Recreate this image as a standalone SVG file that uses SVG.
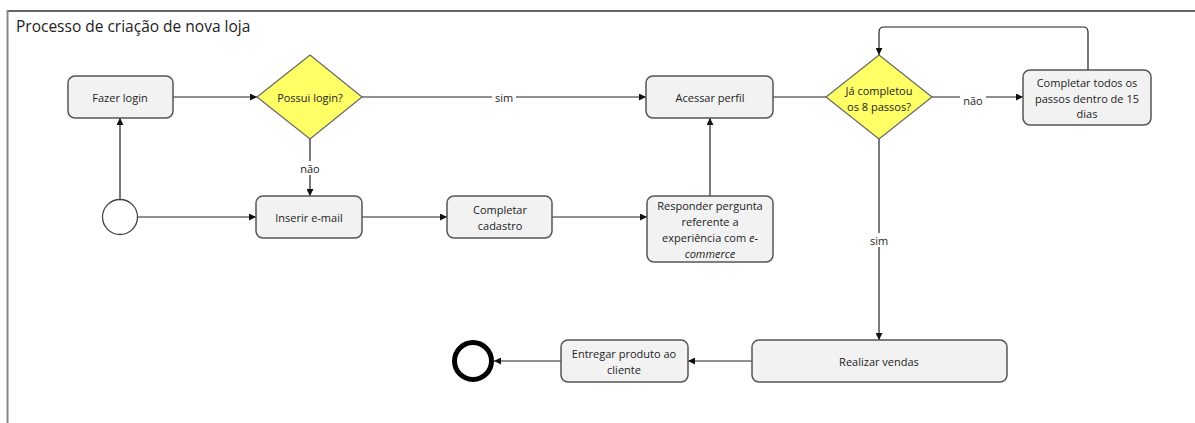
<svg xmlns="http://www.w3.org/2000/svg" width="1195" height="423" viewBox="0 0 1195 423">
<style>
text{font-family:"Open Sans","Liberation Sans",sans-serif;font-size:11px;fill:#222;text-anchor:middle;dominant-baseline:central}
.box{fill:#f2f2f2;stroke:#555;stroke-width:1.5}
.dia{fill:#ffff66;stroke:#666;stroke-width:1.2}
.c{fill:none;stroke:#222;stroke-width:1.2}
.lbl{font-size:11px}
</style>
<defs>
<marker id="ah" viewBox="0 0 10 10" refX="10" refY="5" markerWidth="7" markerHeight="7" markerUnits="userSpaceOnUse" orient="auto"><path d="M0,0 L10,5 L0,10 Z" fill="#111"/></marker>
</defs>
<rect x="0" y="0" width="1195" height="423" fill="#fff"/>
<g id="frame">
<line x1="7" y1="11" x2="1195" y2="11" stroke="#333" stroke-width="1.5"/>
<line x1="7.5" y1="10" x2="7.5" y2="423" stroke="#888" stroke-width="2"/>
<text x="16" y="26" style="font-size:15.5px;text-anchor:start">Processo de criação de nova loja</text>
</g>
<g id="connectors">
<line class="c" x1="173" y1="97" x2="257" y2="97" marker-end="url(#ah)"/>
<line class="c" x1="362" y1="97" x2="646" y2="97" marker-end="url(#ah)"/>
<line class="c" x1="773" y1="97" x2="826" y2="97"/>
<line class="c" x1="932" y1="97" x2="1023" y2="97" marker-end="url(#ah)"/>
<path class="c" d="M1088,70 V32 Q1088,27 1083,27 H884 Q879,27 879,32 V55" marker-end="url(#ah)"/>
<line class="c" x1="879" y1="139" x2="879" y2="340" marker-end="url(#ah)"/>
<line class="c" x1="752" y1="361" x2="688" y2="361" marker-end="url(#ah)"/>
<line class="c" x1="561" y1="361" x2="494" y2="361" marker-end="url(#ah)"/>
<line class="c" x1="310" y1="139" x2="310" y2="196" marker-end="url(#ah)"/>
<line class="c" x1="120" y1="199" x2="120" y2="118" marker-end="url(#ah)"/>
<line class="c" x1="137" y1="217" x2="256" y2="217" marker-end="url(#ah)"/>
<line class="c" x1="362" y1="217" x2="447" y2="217" marker-end="url(#ah)"/>
<line class="c" x1="552" y1="217" x2="647" y2="217" marker-end="url(#ah)"/>
<line class="c" x1="710" y1="196" x2="710" y2="118" marker-end="url(#ah)"/>
<rect x="492" y="90" width="24" height="14" fill="#fff"/>
<text class="lbl" x="504" y="97">sim</text>
<rect x="298" y="161" width="24" height="14" fill="#fff"/>
<text class="lbl" x="310" y="168">não</text>
<rect x="960" y="93" width="26" height="14" fill="#fff"/>
<text class="lbl" x="973" y="100">não</text>
<rect x="867" y="233" width="24" height="14" fill="#fff"/>
<text class="lbl" x="879" y="240">sim</text>
</g>
<g id="start"><circle cx="120" cy="217" r="17.5" fill="#fff" stroke="#444" stroke-width="1.3"/></g>
<g id="fazer-login"><rect class="box" x="68" y="76" width="105" height="42" rx="7"/><text x="120" y="97">Fazer login</text></g>
<g id="possui-login"><polygon class="dia" points="310,55 362,97 310,139 257,97"/><text x="310" y="97">Possui login?</text></g>
<g id="acessar-perfil"><rect class="box" x="646" y="76" width="127" height="42" rx="7"/><text x="710" y="97">Acessar perfil</text></g>
<g id="ja-completou"><polygon class="dia" points="879,55 932,97 879,139 826,97"/><text x="879" y="90">Já completou</text><text x="879" y="106">os 8 passos?</text></g>
<g id="completar-todos"><rect class="box" x="1023" y="70" width="128" height="55" rx="7"/><text x="1087" y="82">Completar todos os</text><text x="1087" y="98">passos dentro de 15</text><text x="1087" y="113">dias</text></g>
<g id="inserir-email"><rect class="box" x="256" y="196" width="106" height="42" rx="7"/><text x="309" y="217">Inserir e-mail</text></g>
<g id="completar-cadastro"><rect class="box" x="447" y="196" width="105" height="42" rx="7"/><text x="500" y="209">Completar</text><text x="500" y="225">cadastro</text></g>
<g id="responder"><rect class="box" x="647" y="196" width="126" height="66" rx="7"/><text x="710" y="205">Responder pergunta</text><text x="710" y="221">referente a</text><text x="710" y="237">experiência com <tspan font-style="italic">e-</tspan></text><text x="710" y="253" font-style="italic">commerce</text></g>
<g id="realizar-vendas"><rect class="box" x="752" y="340" width="255" height="42" rx="7"/><text x="879" y="361">Realizar vendas</text></g>
<g id="entregar"><rect class="box" x="561" y="340" width="127" height="42" rx="7"/><text x="624" y="353">Entregar produto ao</text><text x="624" y="369">cliente</text></g>
<g id="end"><circle cx="473" cy="361" r="18.5" fill="#fff" stroke="#000" stroke-width="5"/></g>
</svg>
